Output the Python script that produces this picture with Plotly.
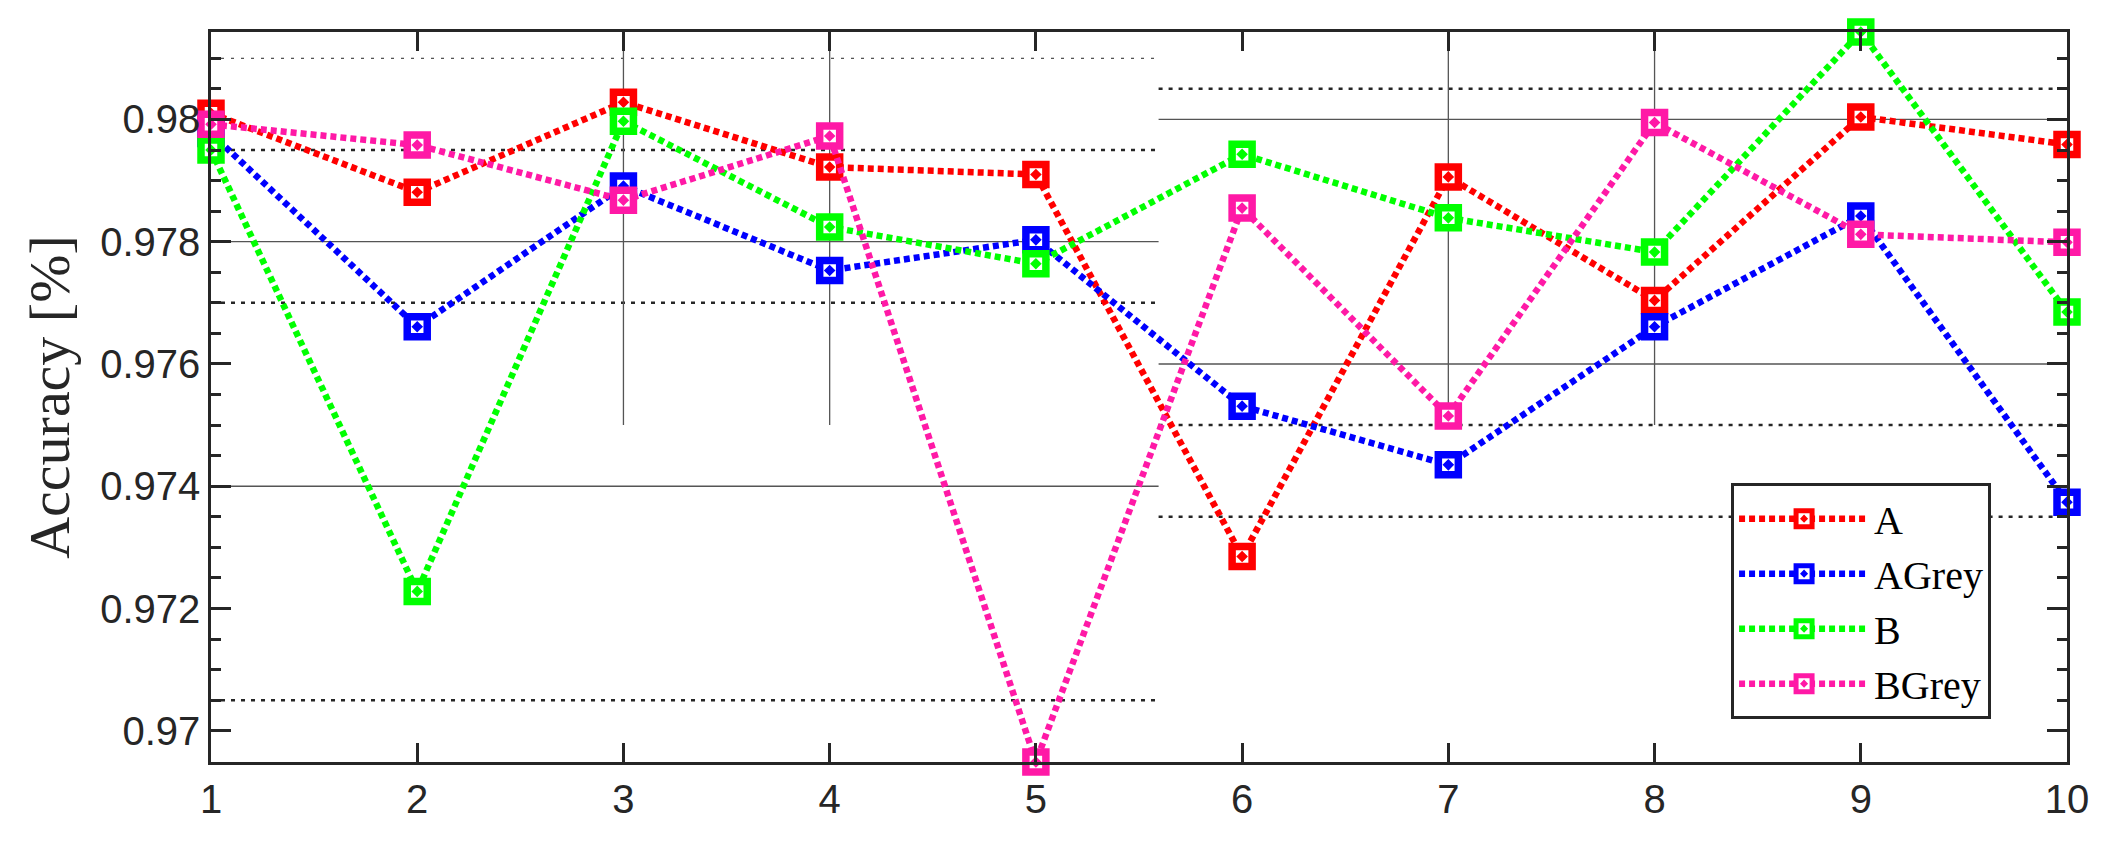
import plotly.graph_objects as go

# data
runs = list(range(1, 11))
acc_a = [0.98010, 0.97881, 0.98028, 0.97922, 0.97910, 0.97285, 0.97906, 0.97704, 0.98004, 0.97959]
acc_a_grey = [0.97977, 0.97661, 0.97891, 0.97753, 0.97803, 0.97531, 0.97435, 0.97661, 0.97842, 0.97374]
acc_b = [0.97950, 0.97228, 0.97997, 0.97824, 0.97764, 0.97943, 0.97839, 0.97783, 0.98143, 0.97685]
acc_b_grey = [0.97992, 0.97958, 0.97868, 0.97973, 0.96949, 0.97855, 0.97515, 0.97995, 0.97812, 0.97799]

names = ['A', 'AGrey', 'B', 'BGrey']
colors = ['#ff0000', '#0000ff', '#00ff00', '#ff19a6']

y_ticks = [0.970, 0.972, 0.974, 0.976, 0.978, 0.980]
y_tick_labels = ['0.97', '0.972', '0.974', '0.976', '0.978', '0.98']

# leftover reference lines in the panel (left part / right part)
left_dotted = [0.9705, 0.977, 0.9795]
left_dotted_thin = [0.981]
left_solid = [0.974, 0.978]
right_dotted = [0.9735, 0.975, 0.9805]
right_solid = [0.976, 0.980]
vert_lines = [3, 4, 7, 8]
vert_bottom = 0.975
split_x = 5.595

ink = '#262626'

fig = go.Figure()

for series, name, col in zip([acc_a, acc_a_grey, acc_b, acc_b_grey], names, colors):
    fig.add_trace(go.Scatter(
        x=runs, y=series, name=name, mode='lines+markers',
        line=dict(color=col, width=6.5, dash='6px,4px'),
        marker=dict(symbol='square-dot', size=20, color='white',
                    line=dict(width=7.5, color=col)),
        cliponaxis=False,
    ))

y_lo, y_hi = min(acc_b_grey), max(acc_b)


def hline(y, x0, x1, width, dash, color):
    fig.add_shape(type='line', xref='x', yref='y', x0=x0, x1=x1, y0=y, y1=y,
                  line=dict(color=color, width=width, dash=dash), layer='below')


for v in left_dotted:
    hline(v, 1, split_x, 2.5, '4px,6px', ink)
for v in left_dotted_thin:
    hline(v, 1, split_x, 1, '3px,7px', ink)
for v in left_solid:
    hline(v, 1, split_x, 1.3, 'solid', '#555555')
for v in right_dotted:
    hline(v, split_x, 10, 2.5, '4px,6px', ink)
for v in right_solid:
    hline(v, split_x, 10, 1.3, 'solid', '#555555')
for v in vert_lines:
    fig.add_shape(type='line', xref='x', yref='y', x0=v, x1=v, y0=vert_bottom, y1=y_hi,
                  line=dict(color='#555555', width=1.3), layer='below')

fig.update_layout(
    width=2101, height=842,
    margin=dict(l=203, r=42, t=24, b=88),
    paper_bgcolor='white', plot_bgcolor='white',
    font=dict(family='Liberation Sans', color=ink),
    legend=dict(x=0.819, y=0.382, xanchor='left', yanchor='top',
                bgcolor='white', bordercolor=ink, borderwidth=3,
                font=dict(family='Liberation Serif', size=40, color='black'),
                itemwidth=130, tracegroupgap=0),
)

fig.update_xaxes(
    range=[1, 10], tickvals=runs, ticks='inside', ticklen=19, tickwidth=2.5,
    tickcolor=ink, showline=True, linewidth=2.5, linecolor=ink, mirror='ticks',
    showgrid=False, zeroline=False, tickfont=dict(size=40, color=ink),
)

fig.update_yaxes(
    range=[y_lo, y_hi], tickvals=y_ticks, ticktext=y_tick_labels,
    ticks='inside', ticklen=20, tickwidth=2.5, tickcolor=ink,
    showline=True, linewidth=2.5, linecolor=ink, mirror='ticks',
    showgrid=False, zeroline=False, tickfont=dict(size=40, color=ink),
    minor=dict(tickmode='linear', tick0=0.9695, dtick=0.0005, ticks='inside',
               ticklen=10, tickwidth=2.5, tickcolor=ink, showgrid=False),
    title=dict(text='Accuracy [%]', standoff=12,
               font=dict(family='Liberation Serif', size=58, color=ink)),
)

fig.write_html('out.html')
